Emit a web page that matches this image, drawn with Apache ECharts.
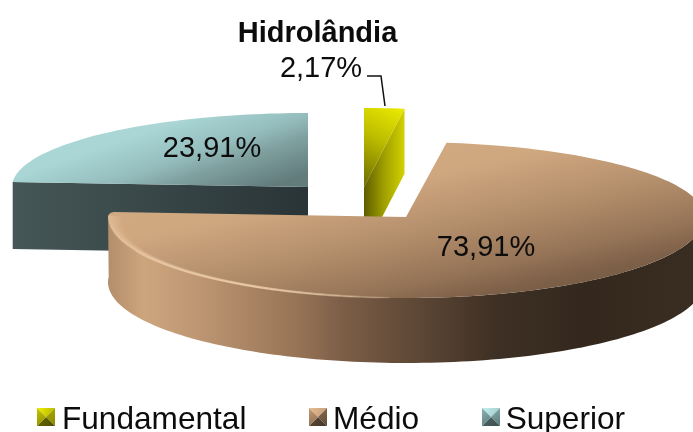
<!DOCTYPE html>
<html><head><meta charset="utf-8">
<style>html,body{margin:0;padding:0;background:#fff}#c{width:693px;height:432px}</style>
<script src="https://cdn.jsdelivr.net/npm/echarts@6/dist/echarts.min.js"></script>
</head><body><div id="c"></div>
<script>
const titleText = 'Hidrolândia';
const categories = ['Fundamental', 'Médio', 'Superior'];
const shares = [2.17, 73.91, 23.91];

const FONT = '"Liberation Sans", Arial, sans-serif';
const total = shares.reduce((a, b) => a + b, 0);
const spans = [];
shares.reduce((acc, v, i) => { spans[i] = [acc, acc + v / total * 360]; return acc + v / total * 360; }, 0);
const fmt = v => v.toFixed(2).replace('.', ',') + '%';
const stops = a => a.map(([o, color]) => ({ offset: o, color }));
const grad = (x, y, x2, y2, a) => ({ type: 'linear', x, y, x2, y2, colorStops: stops(a) });
const gradPx = (x, y, x2, y2, a) => ({ type: 'linear', x, y, x2, y2, global: true, colorStops: stops(a) });

const look = {
  'Fundamental': {
    c: [364, 187], rx: 298, ryT: 79, ryB: 80, depth: 65, label: null,
    top: grad(1, 0, 0, 1, [[0, '#ecec00'], [0.45, '#bcbc00'], [1, '#6a6a00']]),
    cut: grad(0, 0, 1, 0, [[0, '#5e5e00'], [0.5, '#a0a000'], [1, '#d2d200']])
  },
  'Médio': {
    c: [406, 217], rx: 298, ryT: 75, ryB: 81, depth: 65, label: [486, 248],
    top: gradPx(108, 142, 167, 415, [[0, 'rgb(212,172,132)'], [0.35, 'rgb(208,168,128)'], [0.55, 'rgb(180,143,108)'], [0.72, 'rgb(150,116,87)'], [0.82, 'rgb(125,96,72)'], [1, 'rgb(105,80,60)']]),
    side: gradPx(108, 0, 704, 0, [[0, 'rgb(178,142,106)'], [0.06, 'rgb(205,165,125)'], [0.15, 'rgb(190,150,115)'], [0.32, 'rgb(150,115,85)'], [0.39, 'rgb(125,95,72)'], [0.47, 'rgb(105,80,60)'], [0.65, 'rgb(62,48,36)'], [0.8, 'rgb(52,40,30)'], [1, 'rgb(58,46,34)']])
  },
  'Superior': {
    c: [308, 187], rx: 296, ryT: 74, ryB: 74, depth: 67, label: [212, 149],
    top: gradPx(200, 100, 234, 199, [[0, '#aad6d6'], [0.12, '#aad6d6'], [0.47, '#94bcbc'], [0.66, '#80a0a0'], [1, '#627c7c']]),
    cut: grad(0, 0, 1, 0, [[0, '#465757'], [1, '#293436']])
  }
};

function pt(s, deg, k, dy) {
  const a = deg * Math.PI / 180, cs = Math.cos(a);
  return [s.c[0] + s.rx * k * Math.sin(a), s.c[1] - (cs > 0 ? s.ryT : s.ryB) * k * cs + (dy || 0)];
}
function arc(s, a0, a1, k, dy) {
  const out = [], n = Math.max(2, Math.ceil(Math.abs(a1 - a0) / 1.5));
  for (let i = 0; i <= n; i++) out.push(pt(s, a0 + (a1 - a0) * i / n, k === undefined ? 1 : k, dy));
  return out;
}
const poly = (points, fill, z2) => ({ type: 'polygon', shape: { points }, style: { fill, stroke: null }, z2: z2 || 0 });

function renderSlice(name, idx) {
  return function () {
    const s = look[name], [a0, a1] = spans[idx], kids = [];
    const c = s.c, d = s.depth;
    if (name === 'Fundamental') {
      const e = pt(s, a1, 1);
      kids.push(poly([[c[0], c[1]], e, [e[0], e[1] + d], [c[0], c[1] + d]], s.cut));
    }
    if (name === 'Superior') {
      const e = pt(s, a0, 1);
      kids.push(poly([e, [c[0], c[1]], [c[0], c[1] + d], [e[0], e[1] + d]], s.cut));
    }
    if (name === 'Médio') {
      const aEnd = a1 - 3;
      const front = arc(s, 90, aEnd, 1), bot = arc(s, 90, a1, 1, d).reverse();
      kids.push(poly(front.concat(bot), s.side));
      const e = pt(s, a1, 1);
      // rounded outer corner of the slice
      const corner = [[e[0] + 0.3, e[1] + 2.5], [e[0] + 1.5, e[1] + 1], [e[0] + 5, e[1] + 0.2]];
      kids.push(poly([[c[0], c[1]]].concat(arc(s, a0, aEnd, 1), corner), s.top));
      // soft raised lip along the near-left edge: thin bright strokes fading inwards
      const bands = 10, start = 183;
      for (let j = bands - 1; j >= 0; j--) {
        const pts = [], n = 60;
        for (let i = 0; i <= n; i++) {
          const t = i / n, ang = start + (a1 - 3 - start) * t;
          pts.push(pt(s, ang, 1 - (0.006 + 0.045 * t * t) * (j + 0.7) / bands));
        }
        const al = (0.34 * Math.pow(1 - j / bands, 1.3)).toFixed(3);
        kids.push({ type: 'polyline', shape: { points: pts },
          style: { fill: null, lineWidth: 2,
            stroke: gradPx(395, 0, 255, 0, [[0, 'rgba(240,208,172,0)'], [1, 'rgba(240,208,172,' + al + ')']]) } });
      }
    } else {
      kids.push(poly([[c[0], c[1]]].concat(arc(s, a0, a1, 1)), s.top));
    }
    if (s.label) {
      kids.push({ type: 'text', x: s.label[0], y: s.label[1], z2: 10,
        style: { text: fmt(shares[idx]), fill: '#0c0c0c', font: '29px ' + FONT, align: 'center', verticalAlign: 'middle' } });
    }
    return { type: 'group', children: kids };
  };
}

const iconColors = {
  'Fundamental': [['#f0f000', '#b0b000'], ['#a8a800', '#8a8a00'], ['#6a6a00', '#4c4c00'], ['#c8c800', '#8c8c00']],
  'Médio': [['#e6bd94', '#c49c74'], ['#8c6c50', '#5c4836'], ['#5a4635', '#463628'], ['#c49c74', '#8c6c50']],
  'Superior': [['#c6f0f0', '#9cc8c8'], ['#84acac', '#5c7a7a'], ['#4e6666', '#3c4e4e'], ['#8cb4b4', '#5c7a7a']]
};
const iconX = { 'Fundamental': 37, 'Médio': 309, 'Superior': 482 };
const iconY = 408, iconS = 18;
function iconGraphics() {
  const out = [];
  categories.forEach(n => {
    const x = iconX[n], y = iconY, m = iconS / 2, col = iconColors[n], cx = x + m, cy = y + m;
    const tl = [x, y], tr = [x + iconS, y], br = [x + iconS, y + iconS], bl = [x, y + iconS], ce = [cx, cy];
    [[tl, tr, ce, col[0]], [tr, br, ce, col[1]], [br, bl, ce, col[2]], [bl, tl, ce, col[3]]].forEach(q => {
      out.push({ type: 'polygon', shape: { points: q.slice(0, 3) }, z: 50,
        style: { fill: grad(0, 0, 1, 1, [[0, q[3][0]], [1, q[3][1]]]) } });
    });
  });
  // leader line of the small slice's label
  out.push({ type: 'polyline', shape: { points: [[367, 76], [381, 76], [385, 106]] },
    style: { fill: null, stroke: '#111', lineWidth: 1.5 }, z: 50 });
  out.push({ type: 'text', x: 321, y: 69, z: 50,
    style: { text: fmt(shares[0]), fill: '#0c0c0c', font: '29px ' + FONT, align: 'center', verticalAlign: 'middle' } });
  return out;
}

const solid = { 'Fundamental': '#b9b900', 'Médio': '#a98560', 'Superior': '#8fb4b4' };
const drawOrder = ['Fundamental', 'Superior', 'Médio'];

const chart = echarts.init(document.getElementById('c'), null, { renderer: 'canvas' });
chart.setOption({
  animation: false,
  backgroundColor: '#fff',
  title: { text: titleText, left: 312.5, top: 14, textAlign: 'center',
    textStyle: { fontFamily: FONT, fontWeight: 'bold', fontSize: 29, color: '#0c0c0c' } },
  legend: { data: categories, left: 37, top: 399, itemWidth: 15, itemHeight: 17, itemGap: 66.6, icon: 'rect',
    selectedMode: false, itemStyle: { color: 'transparent', borderWidth: 0 },
    textStyle: { fontFamily: FONT, fontSize: 31.6, color: '#0c0c0c' } },
  graphic: iconGraphics(),
  series: drawOrder.map(n => ({
    type: 'custom', name: n, coordinateSystem: 'none', silent: true,
    itemStyle: { color: solid[n] },
    data: [shares[categories.indexOf(n)]],
    renderItem: renderSlice(n, categories.indexOf(n))
  }))
});
</script></body></html>
